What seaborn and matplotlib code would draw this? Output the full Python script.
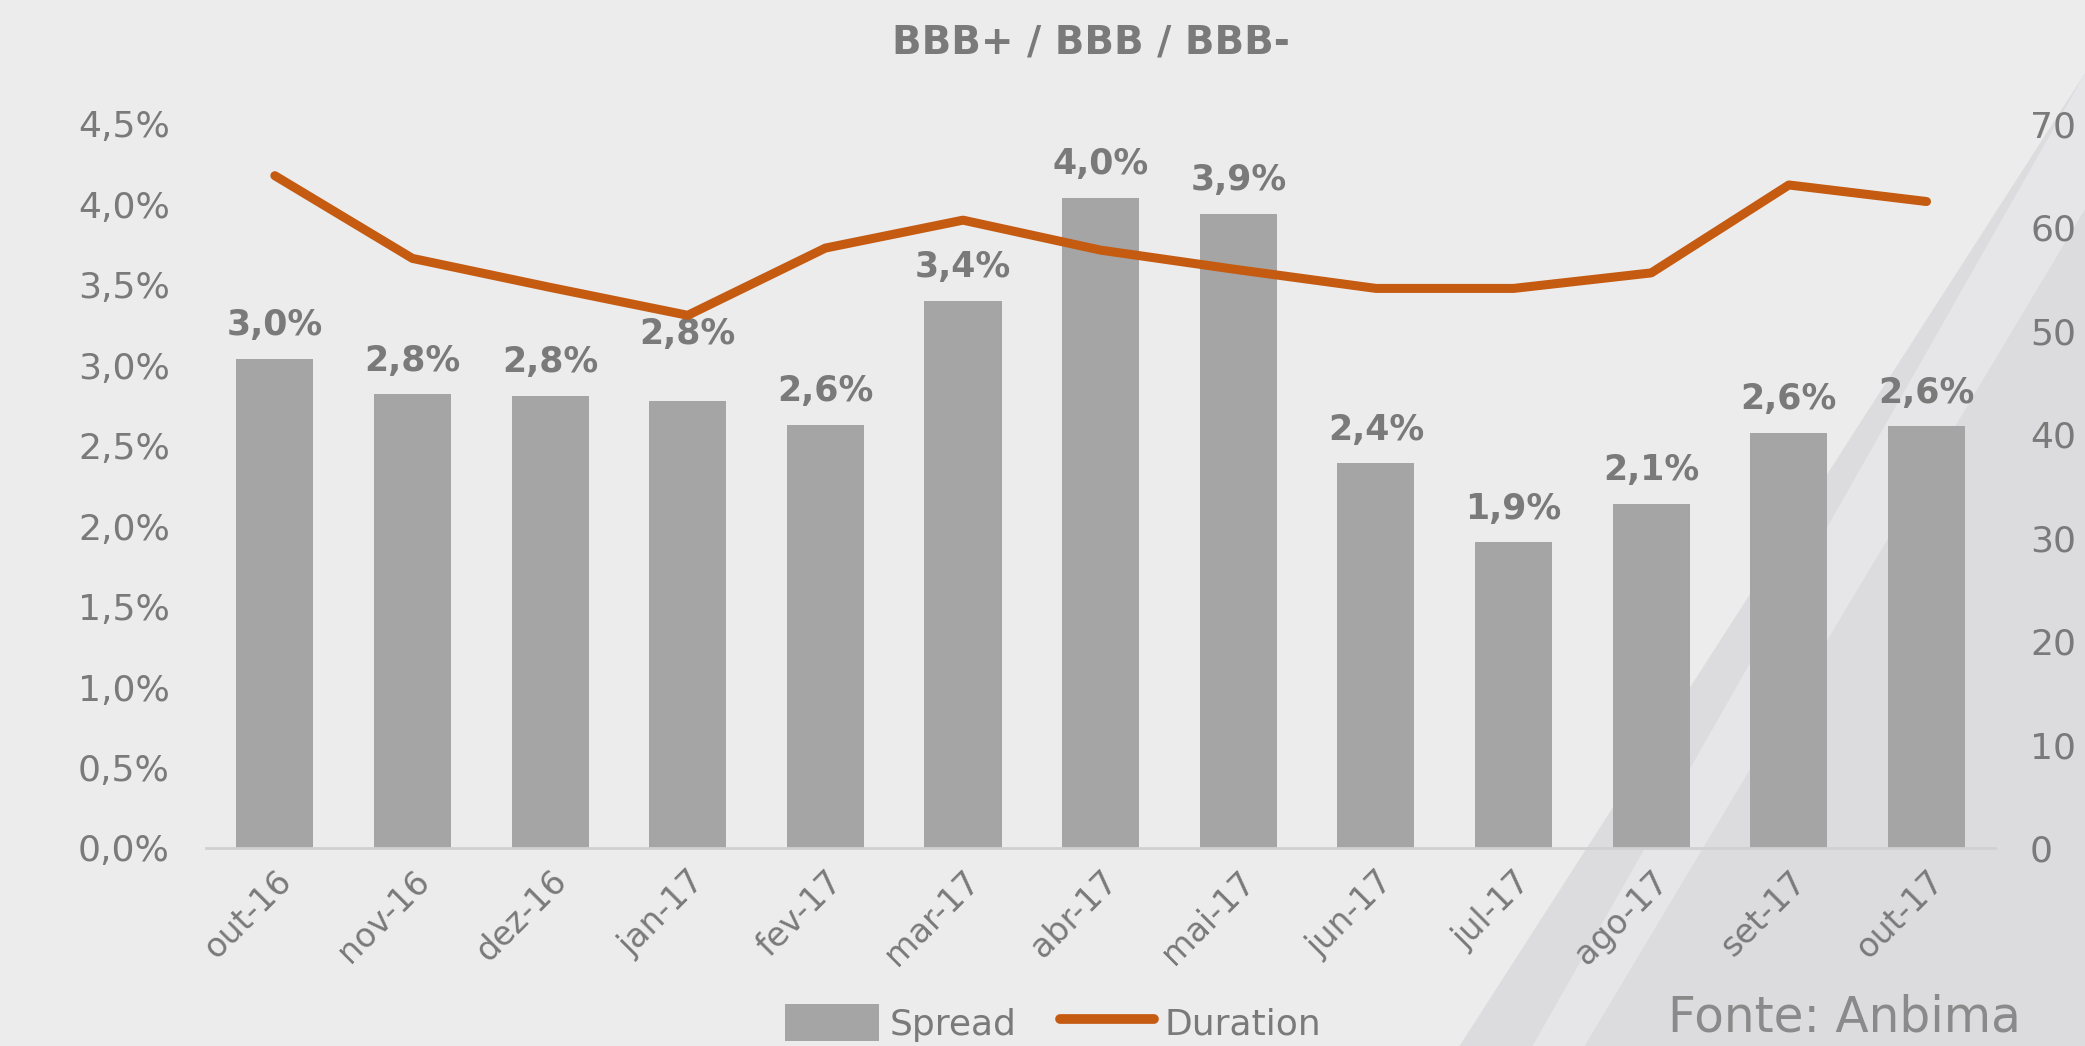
import matplotlib
matplotlib.use("Agg")
import matplotlib.pyplot as plt
import seaborn as sns
import pandas as pd
from matplotlib.patches import Polygon, Patch
from matplotlib.lines import Line2D

# data
meses = ["out-16", "nov-16", "dez-16", "jan-17", "fev-17", "mar-17", "abr-17",
         "mai-17", "jun-17", "jul-17", "ago-17", "set-17", "out-17"]
spread = [3.04, 2.82, 2.81, 2.78, 2.63, 3.40, 4.04, 3.94, 2.39, 1.90, 2.14, 2.58, 2.62]
duration = [65.0, 57.0, 54.2, 51.5, 58.0, 60.7, 57.8, 55.9, 54.1, 54.1, 55.6, 64.1, 62.5]
y_ticks_left = [0, 0.5, 1.0, 1.5, 2.0, 2.5, 3.0, 3.5, 4.0, 4.5]
y_ticks_right = [0, 10, 20, 30, 40, 50, 60, 70]

df = pd.DataFrame({"mes": meses, "spread": spread, "duration": duration})

sns.set_theme(style="white")
plt.rcParams['font.family'] = ['DejaVu Sans']

bar_color = "#a5a5a5"
line_color = "#c55a11"
text_gray = "#7a7a7a"

fig = plt.figure(figsize=(20.85, 10.46), dpi=100)
fig.patch.set_facecolor("#ececed")

# subtle diagonal band in the background
band = Polygon([[1.0, 0.93], [0.70, 0.0], [1.0, 0.0]], closed=True,
               transform=fig.transFigure, facecolor="#dcdcde", edgecolor="none", zorder=-2)
fig.patches.append(band)
band2 = Polygon([[1.0, 0.93], [0.735, 0.0], [0.76, 0.0], [1.0, 0.80]], closed=True,
                transform=fig.transFigure, facecolor="#e6e6e8", edgecolor="none", zorder=-1)
fig.patches.append(band2)

ax = fig.add_axes([0.0988, 0.1893, 0.8582, 0.6922])
ax.set_facecolor("none")

sns.barplot(data=df, x="mes", y="spread", color=bar_color, width=0.56,
            saturation=1, ax=ax, zorder=2, edgecolor="none", linewidth=0)

ax.set_ylim(0, 4.5)
ax.set_xlim(-0.5, len(meses) - 0.5)
ax.set_yticks(y_ticks_left)
ax.set_yticklabels([f"{v:.1f}%".replace(".", ",") for v in y_ticks_left])
ax.set_xlabel("")
ax.set_ylabel("")

labels = [f"{v:.1f}%".replace(".", ",") for v in spread]
txts = ax.bar_label(ax.containers[0], labels=labels, padding=12,
                    fontsize=25, fontweight="bold", color=text_gray)
# jan-17 label sits higher in the original
txts[3].xyann = (0, 36)

for s in ["top", "left", "right"]:
    ax.spines[s].set_visible(False)
ax.spines["bottom"].set_color("#d0d0d0")
ax.spines["bottom"].set_linewidth(2)

ax.tick_params(axis="y", length=0, pad=26, labelsize=26, labelcolor=text_gray)
ax.tick_params(axis="x", length=0, pad=12, labelsize=24, labelcolor=text_gray)
for lbl in ax.get_xticklabels():
    lbl.set_rotation(45)
    lbl.set_ha("right")
    lbl.set_va("top")
    lbl.set_rotation_mode("anchor")

ax2 = ax.twinx()
sns.lineplot(data=df, x="mes", y="duration", sort=False, color=line_color,
             linewidth=6.5, ax=ax2, solid_capstyle="round")
ax2.set_ylim(0, 70)
ax2.set_yticks(y_ticks_right)
ax2.set_ylabel("")
ax2.set_xlim(-0.5, len(meses) - 0.5)
for s in ["top", "left", "right", "bottom"]:
    ax2.spines[s].set_visible(False)
ax2.tick_params(axis="y", length=0, pad=25, labelsize=26, labelcolor=text_gray)
ax2.grid(False)
ax.grid(False)

fig.text(0.523, 0.959, "BBB+ / BBB / BBB-", ha="center", va="center",
         fontsize=28, fontweight="bold", color=text_gray)

# legend along the bottom edge
handles = [Patch(facecolor=bar_color, edgecolor="none", label="Spread"),
           Line2D([0], [0], color=line_color, linewidth=7, solid_capstyle="round", label="Duration")]
fig.legend(handles=handles, loc="center", bbox_to_anchor=(0.505, 0.022), ncol=2,
           frameon=False, fontsize=26, labelcolor=text_gray, handlelength=2.6,
           handleheight=1.2, handletextpad=0.3, columnspacing=1.2)

fig.text(0.80, 0.004, "Fonte: Anbima", ha="left", va="bottom",
         fontsize=35, color="#8a8a8a")

fig.savefig("out.png", dpi=100, facecolor=fig.get_facecolor())
